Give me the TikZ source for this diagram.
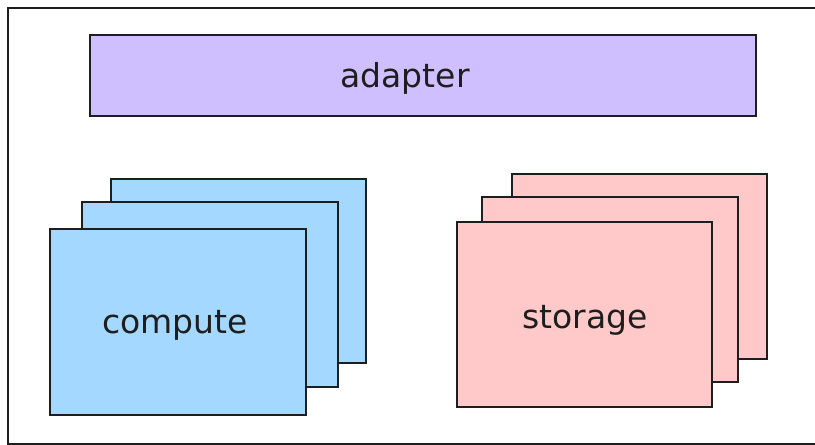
\documentclass[tikz,border=0pt]{standalone}
\usepackage{fontspec}
\setmainfont{DejaVu Sans}
\definecolor{inkc}{HTML}{1E1E1E}
\definecolor{adapterc}{HTML}{D0BFFF}
\definecolor{computec}{HTML}{A5D8FF}
\definecolor{storagec}{HTML}{FFC9C9}
\begin{document}
\begin{tikzpicture}[x=1pt,y=-1pt,
  box/.style={draw=inkc, line width=1.4pt, inner sep=0pt, rectangle},
  lbl/.style={text=inkc, inner sep=0pt, font=\fontsize{33}{38}\selectfont}]
\useasboundingbox (0,0) rectangle (815,445);
\fill[white] (0,0) rectangle (815,445);
\draw[inkc, line width=1.4pt] (8,8) rectangle (830,444);
% adapter
\node[box, fill=adapterc, minimum width=666pt, minimum height=81pt] (adapter) at (423,75.5) {};
\node[lbl] (adaptertxt) at (405,78) {adapter};
% compute stack
\node[box, fill=computec, minimum width=255pt, minimum height=184pt] (cback) at (238.5,271) {};
\node[box, fill=computec, minimum width=256pt, minimum height=185pt] (cmid) at (210,294.5) {};
\node[box, fill=computec, minimum width=256pt, minimum height=186pt] (cfront) at (178,322) {};
\node[lbl] (computetxt) at (175,325) {compute};
% storage stack
\node[box, fill=storagec, minimum width=255pt, minimum height=185pt] (sback) at (639.5,266.5) {};
\node[box, fill=storagec, minimum width=256pt, minimum height=185pt] (smid) at (610,289.5) {};
\node[box, fill=storagec, minimum width=255pt, minimum height=185pt] (sfront) at (584.5,314.5) {};
\node[lbl] (storagetxt) at (585,320) {storage};
\end{tikzpicture}
\end{document}
